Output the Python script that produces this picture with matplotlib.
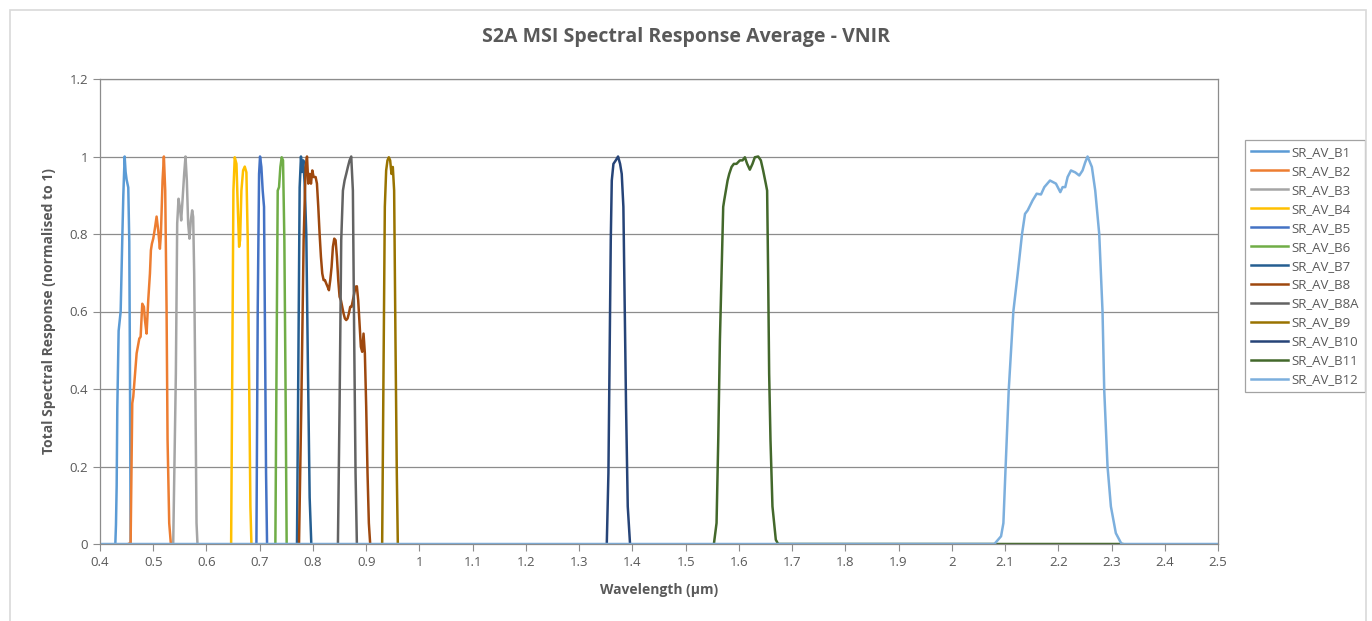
import matplotlib
matplotlib.use("Agg")
import matplotlib.pyplot as plt
from matplotlib.patches import Rectangle

# band data (wavelength in um, normalised response)
b1_x = [0.4288, 0.430, 0.4313, 0.4325, 0.435, 0.4388, 0.4419, 0.4438, 0.4463, 0.4481, 0.450, 0.4531, 0.455, 0.4563, 0.4575]
b1_y = [0, 0.05, 0.15, 0.35, 0.55, 0.60, 0.79, 0.90, 1.0, 0.96, 0.94, 0.92, 0.78, 0.44, 0]

b2_x = [0.453, 0.4575, 0.4606, 0.4625, 0.4688, 0.4738, 0.4763, 0.4794, 0.4825, 0.4844, 0.4875, 0.4906, 0.4938,
        0.4956, 0.4975, 0.500, 0.5031, 0.5063, 0.5094, 0.5125, 0.5144, 0.5175, 0.520, 0.5225, 0.525, 0.5269, 0.530, 0.5331]
b2_y = [0, 0.003, 0.363, 0.38, 0.492, 0.53, 0.535, 0.62, 0.612, 0.578, 0.543, 0.629, 0.698,
        0.758, 0.775, 0.788, 0.814, 0.845, 0.809, 0.762, 0.80, 0.938, 1.0, 0.912, 0.612, 0.269, 0.054, 0]

b3_x = [0.5375, 0.5425, 0.545, 0.5475, 0.550, 0.5525, 0.555, 0.5581, 0.5606, 0.5631, 0.5656, 0.5681, 0.5706,
        0.5731, 0.575, 0.5769, 0.5794, 0.5813, 0.5831]
b3_y = [0, 0.44, 0.827, 0.891, 0.869, 0.835, 0.887, 0.955, 1.0, 0.938, 0.827, 0.788, 0.835,
        0.861, 0.844, 0.698, 0.355, 0.054, 0]

b4_x = [0.6463, 0.6488, 0.6506, 0.6531, 0.6563, 0.6588, 0.6613, 0.6631, 0.6656, 0.6688, 0.6719, 0.675,
        0.6775, 0.680, 0.6825, 0.6844]
b4_y = [0, 0.526, 0.912, 0.998, 0.981, 0.87, 0.767, 0.784, 0.912, 0.964, 0.974, 0.959,
        0.784, 0.44, 0.097, 0]

b5_x = [0.6938, 0.6963, 0.6988, 0.7006, 0.7031, 0.7056, 0.7081, 0.710, 0.7119, 0.7138]
b5_y = [0, 0.612, 0.955, 1.0, 0.973, 0.912, 0.87, 0.526, 0.183, 0]

b6_x = [0.7294, 0.7319, 0.7338, 0.7363, 0.7388, 0.7413, 0.7438, 0.7463, 0.7488, 0.7506]
b6_y = [0, 0.526, 0.912, 0.921, 0.973, 0.998, 0.99, 0.784, 0.355, 0]

b7_x = [0.770, 0.7725, 0.775, 0.7775, 0.7794, 0.7819, 0.7844, 0.7875, 0.7906, 0.7938, 0.7969]
b7_y = [0, 0.45, 0.92, 1.0, 0.96, 0.99, 0.93, 0.80, 0.45, 0.12, 0]

b8_x = [0.7738, 0.7781, 0.7825, 0.7863, 0.7888, 0.7913, 0.7938, 0.7963, 0.7988, 0.8013, 0.805, 0.8075,
        0.810, 0.8125, 0.815, 0.8175, 0.820, 0.8225, 0.825, 0.8275, 0.830, 0.8325, 0.835, 0.8375, 0.840,
        0.8425, 0.845, 0.8475, 0.850, 0.8525, 0.855, 0.8575, 0.860, 0.8625, 0.865, 0.8675, 0.870, 0.8725,
        0.875, 0.8775, 0.880, 0.8825, 0.885, 0.8875, 0.890, 0.8925, 0.895, 0.8975, 0.900, 0.9025, 0.905, 0.9075]
b8_y = [0, 0.355, 0.784, 0.973, 1.0, 0.93, 0.955, 0.93, 0.964, 0.947, 0.947, 0.93,
        0.87, 0.80, 0.741, 0.698, 0.681, 0.681, 0.672, 0.664, 0.655, 0.681, 0.715, 0.767, 0.788,
        0.784, 0.741, 0.681, 0.638, 0.629, 0.612, 0.595, 0.582, 0.578, 0.582, 0.595, 0.612, 0.612,
        0.629, 0.646, 0.664, 0.665, 0.629, 0.569, 0.509, 0.496, 0.543, 0.492, 0.355, 0.183, 0.054, 0]

b8a_x = [0.8469, 0.850, 0.8531, 0.8563, 0.8594, 0.8625, 0.8656, 0.8688, 0.8719, 0.875, 0.8775, 0.880, 0.8825]
b8a_y = [0, 0.355, 0.784, 0.912, 0.938, 0.955, 0.973, 0.99, 1.0, 0.912, 0.526, 0.183, 0]

b9_x = [0.930, 0.9325, 0.935, 0.9375, 0.940, 0.9425, 0.945, 0.9475, 0.950, 0.9525, 0.955, 0.9575, 0.9594]
b9_y = [0, 0.44, 0.87, 0.964, 0.99, 0.998, 0.99, 0.955, 0.973, 0.912, 0.526, 0.183, 0]

b10_x = [1.3519, 1.355, 1.3569, 1.3594, 1.3613, 1.3644, 1.3688, 1.3731, 1.3769, 1.380, 1.3831, 1.3856,
         1.3881, 1.3913, 1.3956]
b10_y = [0, 0.183, 0.44, 0.784, 0.938, 0.981, 0.99, 1.0, 0.981, 0.955, 0.87, 0.612, 0.355, 0.097, 0]

b11_x = [1.5531, 1.5581, 1.5613, 1.5644, 1.5675, 1.5706, 1.5725, 1.5756, 1.5788, 1.5819, 1.5863, 1.5906,
         1.5956, 1.6019, 1.6069, 1.6113, 1.6156, 1.6206, 1.6256, 1.630, 1.6363, 1.6413, 1.6456, 1.6506,
         1.6531, 1.655, 1.6569, 1.6594, 1.6631, 1.6694, 1.6738, 2.32]
b11_y = [0, 0.054, 0.269, 0.526, 0.698, 0.87, 0.887, 0.912, 0.938, 0.955, 0.973, 0.981,
         0.981, 0.99, 0.99, 0.998, 0.981, 0.966, 0.981, 0.998, 1.0, 0.99, 0.964, 0.93,
         0.912, 0.698, 0.44, 0.269, 0.097, 0.011, 0, 0]

b12_x = [0.40, 2.080, 2.0925, 2.0969, 2.1006, 2.1069, 2.1156, 2.1238, 2.1319, 2.1375, 2.1425, 2.1519, 2.1594,
         2.1675, 2.1738, 2.1844, 2.1956, 2.2038, 2.2081, 2.2131, 2.2175, 2.2238, 2.2319, 2.2394, 2.2456,
         2.2506, 2.255, 2.2631, 2.2694, 2.2769, 2.2831, 2.2863, 2.2925, 2.2988, 2.3081, 2.3188, 2.50]
b12_y = [0, 0, 0.02, 0.054, 0.183, 0.397, 0.60, 0.698, 0.80, 0.852, 0.861, 0.887, 0.904,
         0.902, 0.921, 0.938, 0.93, 0.908, 0.921, 0.921, 0.947, 0.964, 0.959, 0.951, 0.964,
         0.985, 1.0, 0.973, 0.912, 0.80, 0.60, 0.397, 0.20, 0.097, 0.028, 0, 0]

names = ['SR_AV_B1', 'SR_AV_B2', 'SR_AV_B3', 'SR_AV_B4', 'SR_AV_B5', 'SR_AV_B6', 'SR_AV_B7',
         'SR_AV_B8', 'SR_AV_B8A', 'SR_AV_B9', 'SR_AV_B10', 'SR_AV_B11', 'SR_AV_B12']
xs = [b1_x, b2_x, b3_x, b4_x, b5_x, b6_x, b7_x, b8_x, b8a_x, b9_x, b10_x, b11_x, b12_x]
ys = [b1_y, b2_y, b3_y, b4_y, b5_y, b6_y, b7_y, b8_y, b8a_y, b9_y, b10_y, b11_y, b12_y]
colors = ['#5B9BD5', '#ED7D31', '#A5A5A5', '#FFC000', '#4472C4', '#70AD47', '#255E91',
          '#9E480E', '#636363', '#997300', '#264478', '#43682B', '#7CAFDD']

plt.rcParams['font.family'] = ['Open Sans', 'DejaVu Sans']
txt = '#595959'

fig = plt.figure(figsize=(13.72, 6.21), dpi=100)
ax = fig.add_axes([100/1372, 1 - 544/621, 1118/1372, 465/621])

for x, y, c, n in zip(xs, ys, colors, names):
    ax.plot(x, y, color=c, lw=1.8, label=n, solid_joinstyle='round')

ax.set_xlim(0.4, 2.5)
ax.set_ylim(0, 1.2)
ax.set_xticks([round(0.4 + 0.1*i, 1) for i in range(22)])
ax.set_xticklabels(['%g' % round(0.4 + 0.1*i, 1) for i in range(22)])
ax.set_yticks([0, 0.2, 0.4, 0.6, 0.8, 1.0, 1.2])
ax.set_yticklabels(['0', '0.2', '0.4', '0.6', '0.8', '1', '1.2'])
ax.yaxis.grid(True, color='#8c8c8c', lw=0.9)
ax.set_axisbelow(True)
ax.tick_params(colors='#8c8c8c', labelcolor=txt, labelsize=9.5, length=5, width=0.8)
for s in ax.spines.values():
    s.set_color('#8c8c8c')
    s.set_linewidth(0.9)

ax.set_xlabel('Wavelength (\u00b5m)', fontsize=10, fontweight='bold', color=txt, labelpad=10)
ax.set_ylabel('Total Spectral Response (normalised to 1)', fontsize=10, fontweight='bold', color=txt, labelpad=10)
fig.text(0.5, 1 - 37/621, 'S2A MSI Spectral Response Average - VNIR', ha='center', va='center',
         fontsize=14, fontweight='bold', color=txt)

leg = ax.legend(loc='upper left', bbox_to_anchor=(1245/1372, 1 - 140/621), bbox_transform=fig.transFigure,
                borderaxespad=0, fontsize=9.5, frameon=True, fancybox=False, handlelength=2.8,
                handletextpad=0.3, labelspacing=0.45, borderpad=0.45, labelcolor=txt)
leg.get_frame().set_edgecolor('#8c8c8c')
leg.get_frame().set_linewidth(0.9)

fig.patches.append(Rectangle((10/1372, -0.01), 1356/1372, (611/621) + 0.01, transform=fig.transFigure,
                             fill=False, edgecolor='#d9d9d9', lw=1.2))

fig.savefig('out.png', dpi=100)
